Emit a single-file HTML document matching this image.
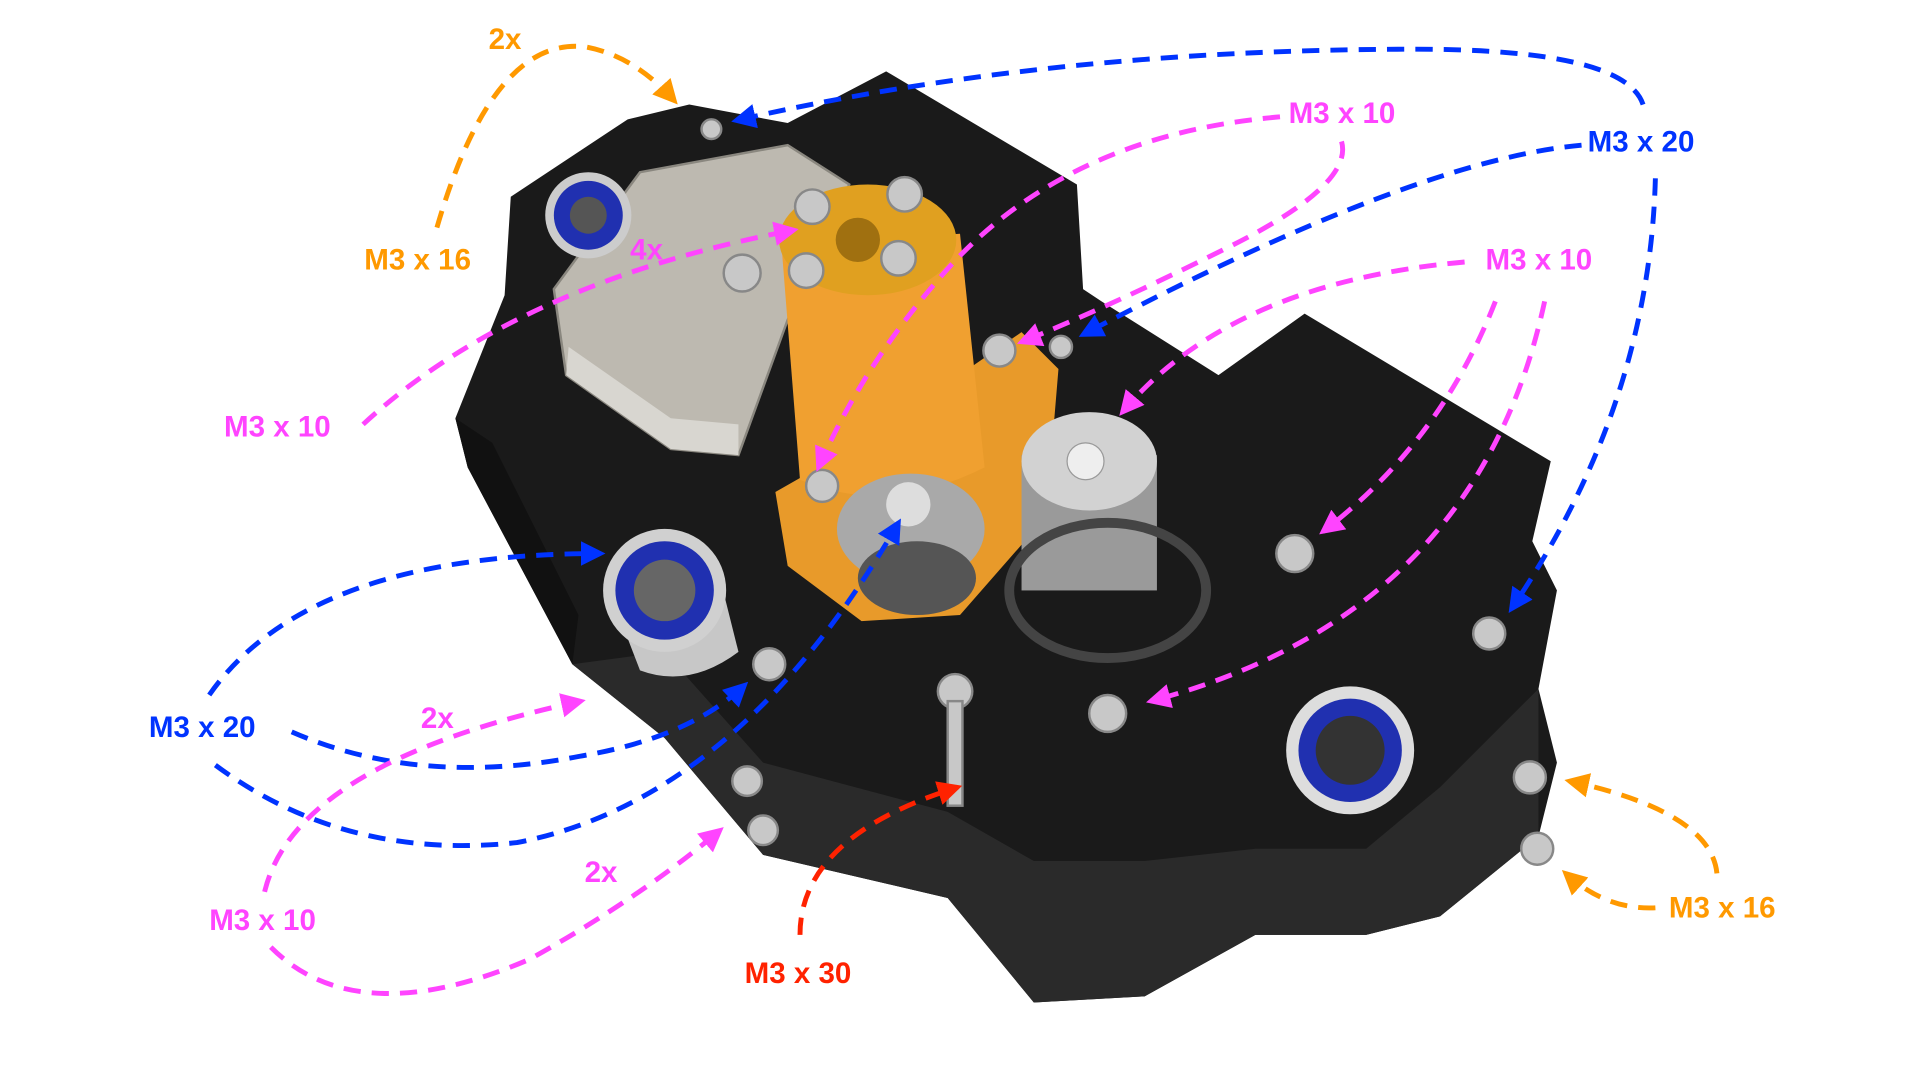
<!DOCTYPE html>
<html><head><meta charset="utf-8"><style>
html,body{margin:0;padding:0;background:#fff;width:1920px;height:1080px;overflow:hidden}
svg{display:block}
text{font-family:"Liberation Sans",sans-serif;font-weight:bold;font-size:24px}
.d{fill:none;stroke-width:4;stroke-dasharray:14 9}
</style></head><body>
<svg width="1920" height="1080" viewBox="0 0 1560 878" preserveAspectRatio="none" xmlns="http://www.w3.org/2000/svg">
<defs>
<marker id="am" viewBox="0 0 10 10" refX="8" refY="5" markerWidth="5" markerHeight="5" orient="auto"><path d="M0,0L10,5L0,10z" fill="#ff44ff"/></marker>
<marker id="ab" viewBox="0 0 10 10" refX="8" refY="5" markerWidth="5" markerHeight="5" orient="auto"><path d="M0,0L10,5L0,10z" fill="#0033ff"/></marker>
<marker id="ao" viewBox="0 0 10 10" refX="8" refY="5" markerWidth="5" markerHeight="5" orient="auto"><path d="M0,0L10,5L0,10z" fill="#ff9900"/></marker>
<marker id="ar" viewBox="0 0 10 10" refX="8" refY="5" markerWidth="5" markerHeight="5" orient="auto"><path d="M0,0L10,5L0,10z" fill="#ff2200"/></marker>
</defs>
<rect width="1560" height="878" fill="#fff"/>
<g>
<polygon fill="#1a1a1a" points="415,160 510,97 560,85 640,100 720,58 875,150 880,235 895,245 990,305 1060,255 1260,375 1245,440 1265,480 1250,560 1265,620 1250,680 1170,745 1110,760 1020,760 930,810 840,815 770,730 620,695 540,600 465,540 380,380 370,340 410,240"/>
<polygon fill="#2a2a2a" points="465,540 540,600 620,695 770,730 840,815 930,810 1020,760 1110,760 1170,745 1250,680 1250,560 1170,640 1110,690 1020,690 930,700 840,700 770,660 620,620 540,530"/>
<polygon fill="#111" points="370,340 380,380 465,540 470,500 400,360"/>
</g>
<polygon fill="#bdb9b0" stroke="#8a877f" stroke-width="2" points="450,235 520,140 640,118 690,150 640,260 600,370 545,365 460,305"/>
<polygon fill="#d8d6d0" points="460,305 545,365 600,370 600,345 545,340 462,282"/>
<g>
<polygon fill="#e89a2a" points="630,400 700,360 830,270 860,300 850,420 780,500 700,505 640,460"/>
<path d="M635,200 L650,390 Q720,420 800,380 L780,190 Z" fill="#f0a030"/>
<ellipse cx="705" cy="195" rx="72" ry="45" fill="#e0a020"/>
<circle cx="697" cy="195" r="18" fill="#a07010"/>
</g>
<g>
<ellipse cx="740" cy="430" rx="60" ry="45" fill="#a9a9a9"/>
<ellipse cx="745" cy="470" rx="48" ry="30" fill="#555"/>
<circle cx="738" cy="410" r="18" fill="#ddd"/>
<rect x="830" y="370" width="110" height="110" fill="#9a9a9a"/>
<ellipse cx="885" cy="375" rx="55" ry="40" fill="#d2d2d2"/>
<circle cx="882" cy="375" r="15" fill="#eee" stroke="#999"/>
<ellipse cx="900" cy="480" rx="80" ry="55" fill="none" stroke="#444" stroke-width="8"/>
</g>
<g>
<circle cx="478" cy="175" r="35" fill="#ccc"/><circle cx="478" cy="175" r="28" fill="#2030b0"/><circle cx="478" cy="175" r="15" fill="#555"/>
<path d="M495,480 L520,545 Q560,560 600,530 L585,470 Z" fill="#c7c7c7"/>
<circle cx="540" cy="480" r="50" fill="#d0d0d0"/><circle cx="540" cy="480" r="40" fill="#2030b0"/><circle cx="540" cy="480" r="25" fill="#666"/>
<circle cx="1097" cy="610" r="52" fill="#ddd"/><circle cx="1097" cy="610" r="42" fill="#2030b0"/><circle cx="1097" cy="610" r="28" fill="#333"/>
</g>
<g fill="#c8c8c8" stroke="#888" stroke-width="2">
<circle cx="578" cy="105" r="8"/><circle cx="660" cy="168" r="14"/><circle cx="735" cy="158" r="14"/><circle cx="655" cy="220" r="14"/><circle cx="730" cy="210" r="14"/>
<circle cx="603" cy="222" r="15"/><circle cx="812" cy="285" r="13"/><circle cx="862" cy="282" r="9"/><circle cx="668" cy="395" r="13"/>
<circle cx="1052" cy="450" r="15"/><circle cx="1210" cy="515" r="13"/><circle cx="625" cy="540" r="13"/><circle cx="900" cy="580" r="15"/>
<circle cx="776" cy="562" r="14"/><circle cx="607" cy="635" r="12"/><circle cx="620" cy="675" r="12"/><circle cx="1243" cy="632" r="13"/><circle cx="1249" cy="690" r="13"/>
<rect x="770" y="570" width="12" height="85"/>
</g>
<!-- orange -->
<path class="d" stroke="#ff9900" d="M355,185 Q400,30 475,38 Q515,45 548,82" marker-end="url(#ao)"/>
<path class="d" stroke="#ff9900" d="M1395,710 Q1390,660 1275,635" marker-end="url(#ao)"/>
<path class="d" stroke="#ff9900" d="M1345,738 Q1305,740 1272,710" marker-end="url(#ao)"/>
<!-- blue -->
<path class="d" stroke="#0033ff" d="M1335,85 Q1320,40 1150,40 Q850,40 598,98" marker-end="url(#ab)"/>
<path class="d" stroke="#0033ff" d="M1285,118 Q1150,130 880,272" marker-end="url(#ab)"/>
<path class="d" stroke="#0033ff" d="M1345,145 Q1340,330 1228,495" marker-end="url(#ab)"/>
<path class="d" stroke="#0033ff" d="M170,565 Q250,450 488,450" marker-end="url(#ab)"/>
<path class="d" stroke="#0033ff" d="M237,595 Q340,640 470,615 Q560,600 605,557" marker-end="url(#ab)"/>
<path class="d" stroke="#0033ff" d="M175,622 Q280,700 420,685 Q600,650 730,425" marker-end="url(#ab)"/>
<!-- magenta -->
<path class="d" stroke="#ff44ff" d="M1040,95 Q860,110 760,230 Q700,300 665,380" marker-end="url(#am)"/>
<path class="d" stroke="#ff44ff" d="M1090,115 Q1100,150 1000,200 Q900,250 830,278" marker-end="url(#am)"/>
<path class="d" stroke="#ff44ff" d="M295,345 Q420,230 645,187" marker-end="url(#am)"/>
<path class="d" stroke="#ff44ff" d="M1190,213 Q1000,230 912,335" marker-end="url(#am)"/>
<path class="d" stroke="#ff44ff" d="M1215,245 Q1170,360 1075,432" marker-end="url(#am)"/>
<path class="d" stroke="#ff44ff" d="M1255,245 Q1200,500 935,570" marker-end="url(#am)"/>
<path class="d" stroke="#ff44ff" d="M215,725 Q240,620 472,570" marker-end="url(#am)"/>
<path class="d" stroke="#ff44ff" d="M220,770 Q290,840 430,780 Q520,730 585,675" marker-end="url(#am)"/>
<!-- red -->
<path class="d" stroke="#ff2200" d="M650,760 Q650,680 778,640" marker-end="url(#ar)"/>
<g>
<text x="397" y="40" fill="#ff9900">2x</text>
<text x="296" y="219" fill="#ff9900">M3 x 16</text>
<text x="1356" y="746" fill="#ff9900">M3 x 16</text>
<text x="1290" y="123" fill="#0033ff">M3 x 20</text>
<text x="121" y="599" fill="#0033ff">M3 x 20</text>
<text x="1047" y="100" fill="#ff44ff">M3 x 10</text>
<text x="1207" y="219" fill="#ff44ff">M3 x 10</text>
<text x="182" y="355" fill="#ff44ff">M3 x 10</text>
<text x="170" y="756" fill="#ff44ff">M3 x 10</text>
<text x="512" y="211" fill="#ff44ff">4x</text>
<text x="342" y="592" fill="#ff44ff">2x</text>
<text x="475" y="717" fill="#ff44ff">2x</text>
<text x="605" y="799" fill="#ff2200">M3 x 30</text>
</g>
</svg>
</body></html>
